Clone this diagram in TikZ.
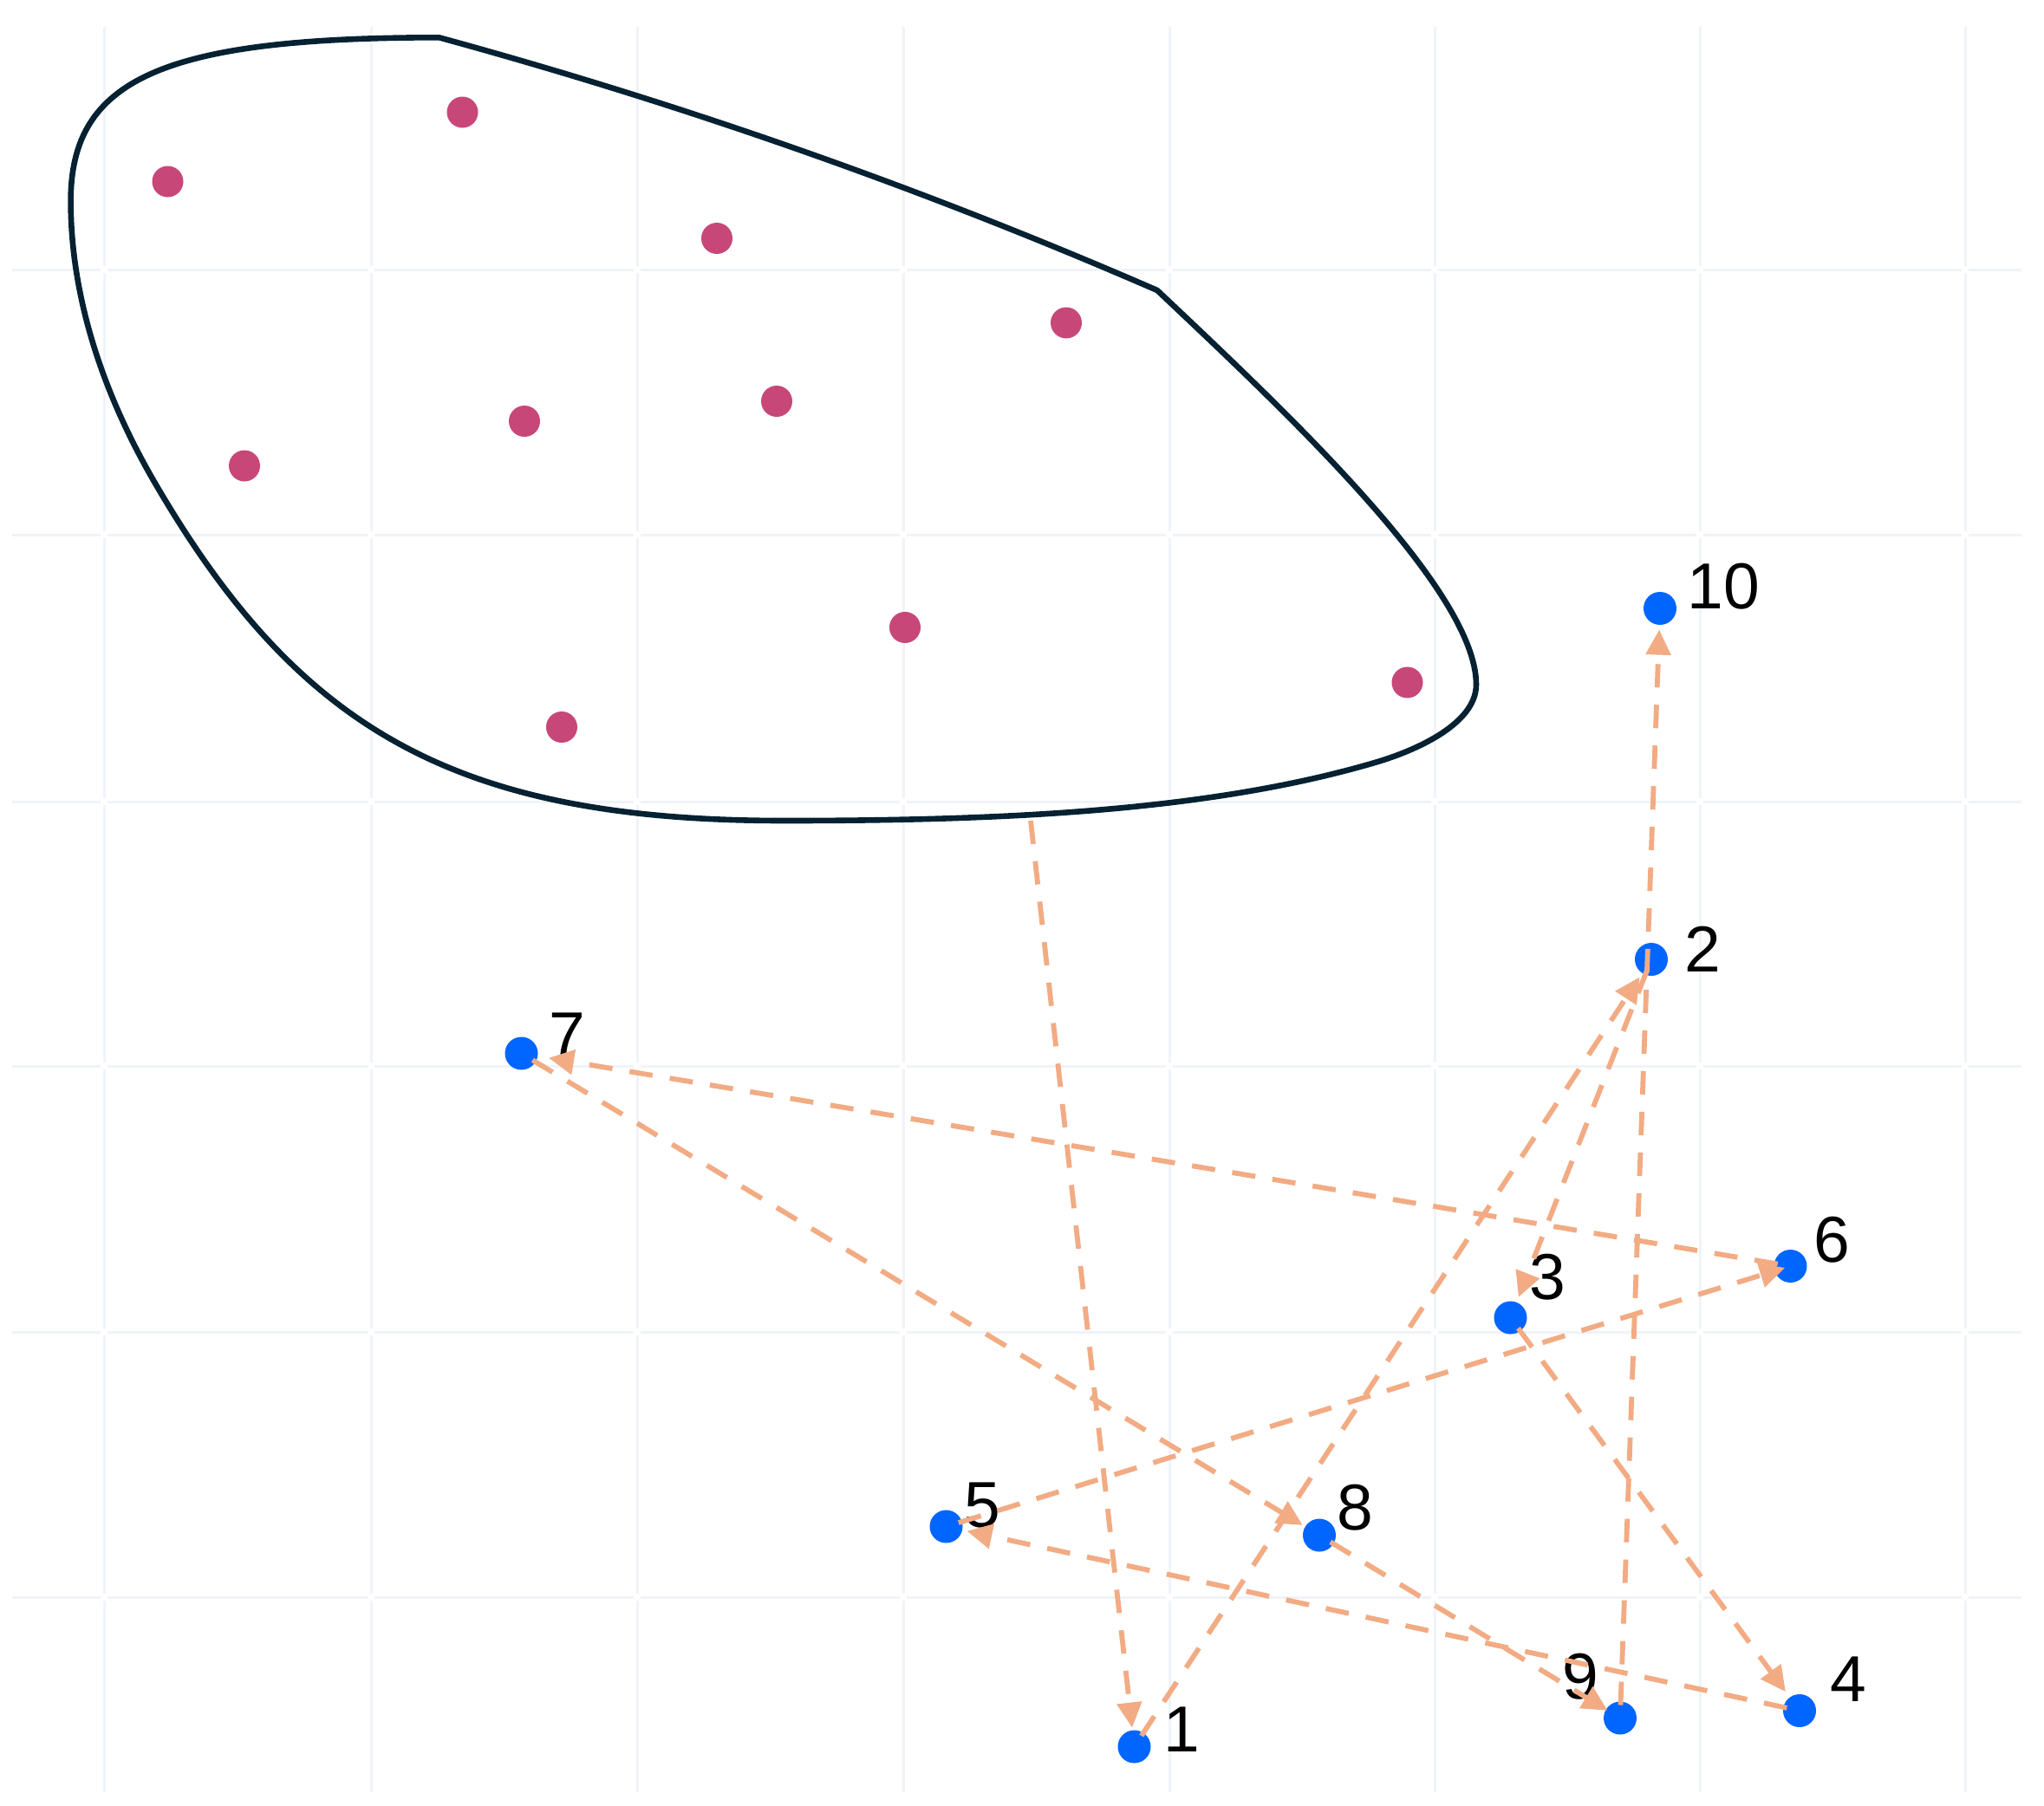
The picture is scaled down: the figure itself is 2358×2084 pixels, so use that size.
\documentclass[tikz,border=0pt]{standalone}
\usepackage{fontspec}
\setmainfont{Liberation Sans}
\usetikzlibrary{arrows.meta}
\definecolor{gridc}{RGB}{240,243,249}
\definecolor{blobc}{RGB}{5,33,50}
\definecolor{pinkc}{RGB}{200,71,121}
\definecolor{bluec}{RGB}{0,102,255}
\definecolor{edgec}{RGB}{242,171,131}
\begin{document}
\begin{tikzpicture}[x=0.5pt,y=-0.5pt,
  gridl/.style={draw=gridc,line width=1.5pt},
  bdot/.style={circle,fill=bluec,draw=none,inner sep=0pt,minimum size=19pt},
  pdot/.style={circle,fill=pinkc,draw=none,inner sep=0pt,minimum size=18pt},
  lbl/.style={inner sep=0pt,anchor=center,font=\fontsize{37.5}{44}\selectfont},
  blobline/.style={draw=blobc,line width=3.3pt,line join=round},
  edgeline/.style={draw=edgec,line width=2.9pt,dash pattern=on 13.5pt off 10pt,
    -{Triangle[length=14.5pt,width=14pt]},shorten <=7.5pt}]
\fill[white] (0,0) rectangle (2358,2084);
\useasboundingbox (0,0) rectangle (2358,2084);
% grid
\foreach \x in {120,428,735,1042,1349,1655,1961,2267}
  \draw[gridl] (\x,31) -- (\x,2068);
\foreach \y in {311,617,925,1230,1537,1843}
  \draw[gridl] (14,\y) -- (2332,\y);
\foreach \x in {120,428,735,1042,1349,1655,1961,2267}
  \foreach \y in {311,617,925,1230,1537,1843}
    \fill[white] ({\x-4},{\y-4}) rectangle ({\x+4},{\y+4});
% blob outline
\draw[blobline] (1335,335) .. controls (1480,472) and (1703,680) .. (1703,790)
  .. controls (1703,835) and (1634,866) .. (1586,880)
  .. controls (1394,936.4) and (1155,947) .. (905,947)
  .. controls (525,947) and (344.6,842) .. (178.6,557)
  .. controls (118.2,453.3) and (81.6,342) .. (81.6,232)
  .. controls (81.6,92) and (186.6,43.3) .. (506.6,43.3)
  .. controls (789.6,120.7) and (1065.6,217.8) .. (1335,335) -- cycle;
% pink points
\node[pdot] (p1) at (193.5,209.5) {};
\node[pdot] (p2) at (533.5,129.5) {};
\node[pdot] (p3) at (827,275) {};
\node[pdot] (p4) at (1230,372.5) {};
\node[pdot] (p5) at (605,486) {};
\node[pdot] (p6) at (896,463) {};
\node[pdot] (p7) at (282,537.5) {};
\node[pdot] (p8) at (1044,724) {};
\node[pdot] (p9) at (1623.5,787.5) {};
\node[pdot] (p10) at (648,839) {};
\coordinate (bs) at (1189,947);
% blue nodes
\node[bdot] (n1) at (1308.5,2015.5) {};
\node[bdot] (n2) at (1905,1107) {};
\node[bdot] (n3) at (1742.5,1520.5) {};
\node[bdot] (n4) at (2076,1974) {};
\node[bdot] (n5) at (1091.5,1761.5) {};
\node[bdot] (n6) at (2065.5,1461) {};
\node[bdot] (n7) at (601.5,1215.5) {};
\node[bdot] (n8) at (1522,1771.5) {};
\node[bdot] (n9) at (1869,1982.5) {};
\node[bdot] (n10) at (1915,702) {};
% labels
\node[lbl] (l1) at (1363.5,1995.5) {1};
\node[lbl] (l2) at (1964.5,1095.6) {2};
\node[lbl] (l3) at (1785,1474) {3};
\node[lbl] (l4) at (2132,1938) {4};
\node[lbl] (l5) at (1133,1737) {5};
\node[lbl] (l6) at (2113,1431) {6};
\node[lbl] (l7) at (654,1195) {7};
\node[lbl] (l8) at (1563,1739.5) {8};
\node[lbl] (l9) at (1823.5,1935) {9};
\node[lbl] (l10) at (1988,676.5) {10};
% edges
\draw[edgeline,shorten <=0pt,shorten >=11pt] (bs) -- (n1.center);
\draw[edgeline,shorten >=12.3pt] (n1.center) -- (n2.center);
\draw[edgeline,shorten >=12.75pt] (n2.center) -- (n3.center);
\draw[edgeline,shorten >=13.6pt] (n3.center) -- (n4.center);
\draw[edgeline,shorten >=12.3pt] (n4.center) -- (n5.center);
\draw[edgeline,shorten >=3.3pt] (n5.center) -- (n6.center);
\draw[edgeline,shorten >=16pt] (n6.center) -- (n7.center);
\draw[edgeline,shorten >=11.25pt] (n7.center) -- (n8.center);
\draw[edgeline,shorten >=8.5pt] (n8.center) -- (n9.center);
\draw[edgeline,shorten >=12.3pt] (n9.center) -- (n10.center);
\end{tikzpicture}
\end{document}
